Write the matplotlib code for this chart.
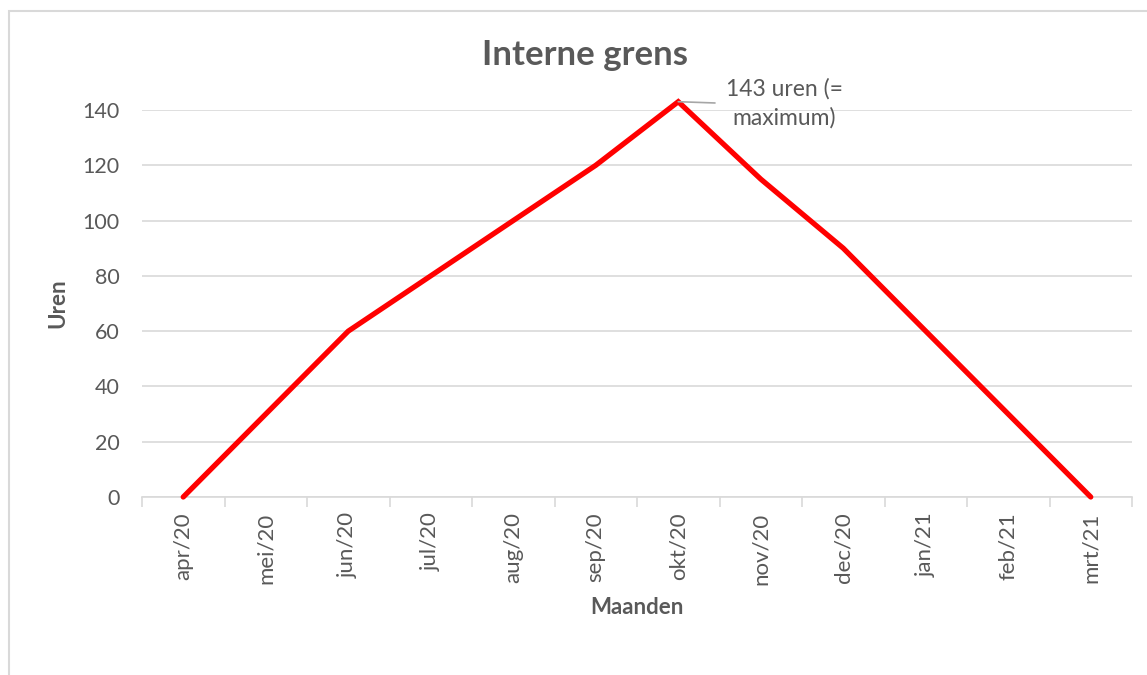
import matplotlib.pyplot as plt
from matplotlib.patches import Rectangle

months = ['apr/20', 'mei/20', 'jun/20', 'jul/20', 'aug/20', 'sep/20',
          'okt/20', 'nov/20', 'dec/20', 'jan/21', 'feb/21', 'mrt/21']
uren = [0, 30, 60, 80, 100, 120, 143, 115, 90, 60, 30, 0]
y_ticks = [0, 20, 40, 60, 80, 100, 120, 140]
peak_label = '143 uren (=\nmaximum)'

plt.rcParams['font.family'] = ['Lato', 'DejaVu Sans']
grey = '#595959'
light = '#d9d9d9'

W, H = 1147, 675
fig = plt.figure(figsize=(W / 100, H / 100), dpi=100)

# chart border (cut off at right/bottom like the screenshot)
fig.patches.append(Rectangle((9 / W, -0.1), 1.2, 1 - 11 / H + 0.1,
                             transform=fig.transFigure, fill=False,
                             edgecolor=light, linewidth=1.5))

ax = fig.add_axes([142 / W, 1 - 497 / H, (1132 - 142) / W, (497 - 110) / H])
x = list(range(len(months)))
ax.plot(x, uren, color='#ff0000', linewidth=3.8, clip_on=False,
        solid_capstyle='round', solid_joinstyle='miter', zorder=3)

ax.set_xlim(-0.5, len(months) - 0.5)
ax.set_ylim(0, 140)
ax.set_yticks(y_ticks)
ax.grid(axis='y', color=light, linewidth=1.2)
ax.set_axisbelow(True)

ax.set_xticks([i - 0.5 for i in range(len(months) + 1)])
ax.set_xticklabels([])
ax.set_xticks(x, minor=True)
ax.set_xticklabels(months, minor=True, rotation=90)
ax.tick_params(axis='x', which='major', length=7, color=light, width=1.2)
ax.tick_params(axis='x', which='minor', length=0, pad=11, labelsize=16,
               labelcolor=grey)
ax.tick_params(axis='y', length=0, pad=16, labelsize=15.5, labelcolor=grey)

for s in ['top', 'right', 'left']:
    ax.spines[s].set_visible(False)
ax.spines['bottom'].set_color(light)
ax.spines['bottom'].set_linewidth(1.2)

ax.set_ylabel('Uren', fontsize=16, fontweight='bold', color=grey, labelpad=10)
ax.set_xlabel('Maanden', fontsize=16, fontweight='bold', color=grey, labelpad=9)

fig.text(585 / W, 1 - 55 / H, 'Interne grens', ha='center', va='center',
         fontsize=25, fontweight='bold', color=grey)

i_max = uren.index(max(uren))
ax.annotate(peak_label, xy=(i_max, uren[i_max]), xytext=(i_max + 0.58, uren[i_max] - 0.6),
            fontsize=16.5, color=grey, ha='left', va='center', multialignment='center',
            linespacing=1.45, annotation_clip=False,
            arrowprops=dict(arrowstyle='-', color='#a6a6a6', linewidth=1.2,
                            shrinkA=6, shrinkB=0, relpos=(0, 0.5)))

fig.savefig('out.png', dpi=100)
